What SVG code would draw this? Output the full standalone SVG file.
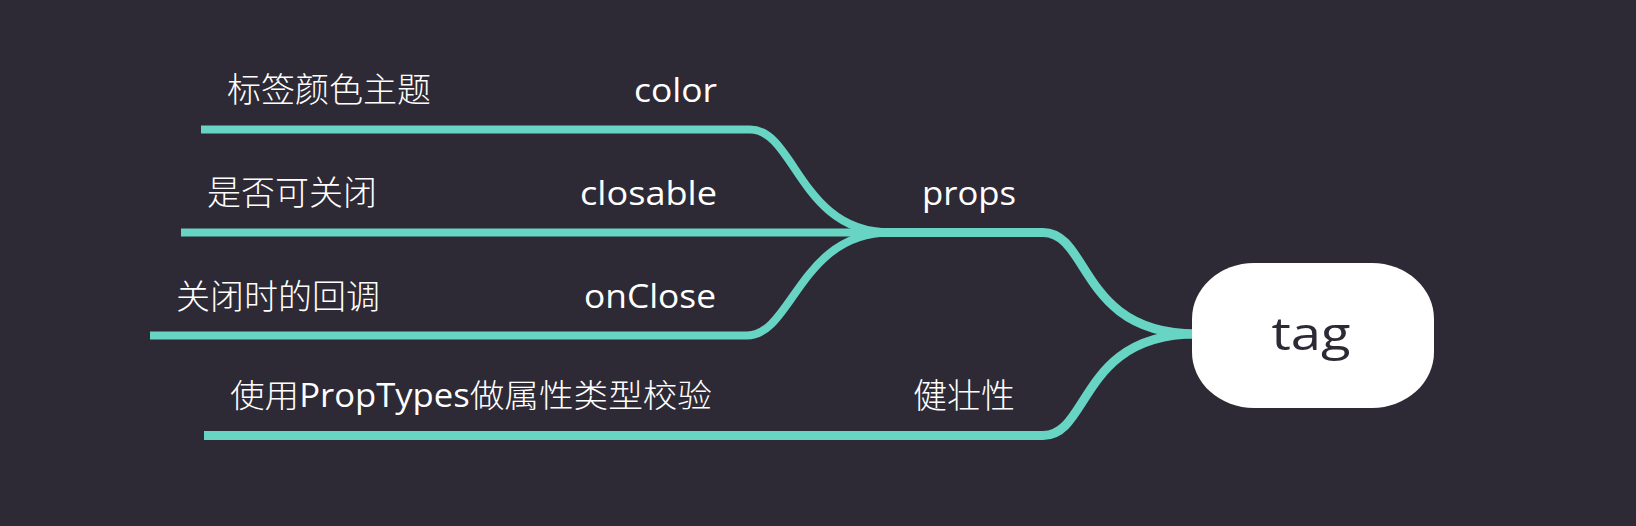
<svg xmlns="http://www.w3.org/2000/svg" width="1636" height="526" viewBox="0 0 1636 526">
  <style>
    .bg { fill: #2e2a35; }
    .edge { fill: none; stroke: #67d4c4; stroke-linecap: butt; stroke-linejoin: round; }
    .e1 { stroke-width: 8; }
    .e2 { stroke-width: 9; }
    .lbl { fill: #ffffff; font-family: "Open Sans", "Noto Sans CJK SC", sans-serif; font-size: 32px; }
    .cjk { fill: #ffffff; font-family: "Noto Sans CJK SC", "Noto Sans", sans-serif; font-size: 34px; font-weight: 300; }
    .cj { font-family: "Noto Sans CJK SC", sans-serif; font-weight: 300; }
    .root { fill: #ffffff; }
    .rootText { fill: #2e2a35; font-family: "Open Sans", sans-serif; font-size: 46px; }
  </style>
  <rect class="bg" x="0" y="0" width="1636" height="526"/>

  <g id="connectors">
    <path class="edge e1" d="M 201 129.5 H 750 C 795 129.5, 800 232.5, 890 232.5"/>
    <path class="edge e1" d="M 181 232.5 H 890"/>
    <path class="edge e1" d="M 150 335.5 H 747 C 792 335.5, 800 232.5, 890 232.5"/>
    <path class="edge e2" d="M 860 232.5 H 1043 C 1090 232.5, 1080 334, 1196 334"/>
    <path class="edge e2" d="M 204 435.5 H 1043 C 1090 435.5, 1080 334, 1196 334"/>
  </g>

  <g id="node-color-desc"><text class="cjk" x="227" y="102">标签颜色主题</text></g>
  <g id="node-color"><text class="lbl" x="717" y="102" text-anchor="end" textLength="83" lengthAdjust="spacingAndGlyphs">color</text></g>

  <g id="node-closable-desc"><text class="cjk" x="207" y="205">是否可关闭</text></g>
  <g id="node-closable"><text class="lbl" x="717" y="204.5" text-anchor="end" textLength="137" lengthAdjust="spacingAndGlyphs">closable</text></g>

  <g id="node-onclose-desc"><text class="cjk" x="176" y="309">关闭时的回调</text></g>
  <g id="node-onclose"><text class="lbl" x="716" y="308" text-anchor="end" textLength="132" lengthAdjust="spacingAndGlyphs">onClose</text></g>

  <g id="node-props"><text class="lbl" x="1016" y="205" text-anchor="end" textLength="94" lengthAdjust="spacingAndGlyphs">props</text></g>

  <g id="node-proptypes-desc"><text class="lbl" x="230" y="407" textLength="482" lengthAdjust="spacingAndGlyphs"><tspan class="cj">使用</tspan>PropTypes<tspan class="cj">做属性类型校验</tspan></text></g>
  <g id="node-robust"><text class="cjk" x="913" y="408">健壮性</text></g>

  <g id="node-tag">
    <rect class="root" x="1192" y="263" width="242" height="145" rx="62" ry="56"/>
    <text class="rootText" x="1311" y="350" text-anchor="middle" textLength="79" lengthAdjust="spacingAndGlyphs">tag</text>
  </g>
</svg>
